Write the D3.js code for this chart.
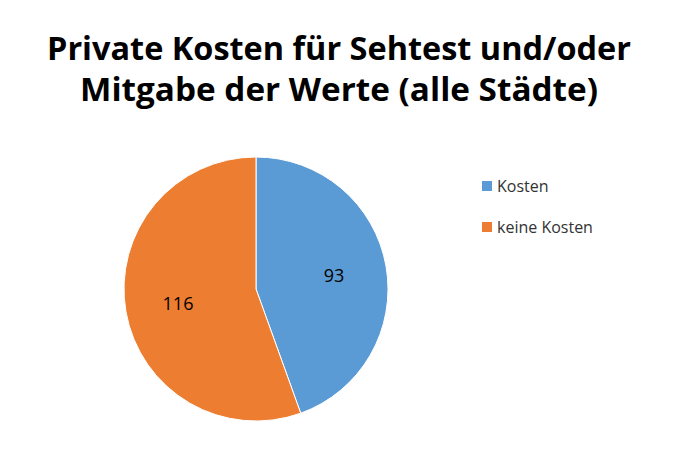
<!DOCTYPE html>
<html><head><meta charset="utf-8">
<script src="https://cdn.jsdelivr.net/npm/d3@7"></script>
<style>body{margin:0;background:#fff}</style></head>
<body><svg id="c" width="691" height="465"></svg>
<script>
const categories = ["Kosten", "keine Kosten"];
const values = [93, 116];
const colors = ["#5B9BD5", "#ED7D31"];
const titleLines = ["Private Kosten für Sehtest und/oder", "Mitgabe der Werte (alle Städte)"];

const svg = d3.select("#c");
svg.append("rect").attr("width",691).attr("height",465).attr("fill","#fff");
const font = "Open Sans, Liberation Sans, sans-serif";
const tl = [[339,60,584],[339,101,518]];
titleLines.forEach((t,i)=>svg.append("text").attr("x",tl[i][0]).attr("y",tl[i][1])
  .attr("text-anchor","middle").attr("font-family",font).attr("font-weight","bold")
  .attr("font-size",32).attr("fill","#000").attr("textLength",tl[i][2])
  .attr("lengthAdjust","spacingAndGlyphs").text(t));

const cx=256, cy=289, r=132;
const pie = d3.pie().sort(null)(values);
const arc = d3.arc().innerRadius(0).outerRadius(r);
const g = svg.append("g").attr("transform",`translate(${cx},${cy})`);
g.selectAll("path").data(pie).enter().append("path").attr("d",arc)
  .attr("fill",(d,i)=>colors[i]).attr("stroke","#fff").attr("stroke-width",1);
const la = d3.arc().innerRadius(r*0.6).outerRadius(r*0.6);
g.selectAll("text").data(pie).enter().append("text")
  .attr("transform",d=>`translate(${la.centroid(d)})`).attr("text-anchor","middle")
  .attr("dominant-baseline","central").attr("font-family",font).attr("font-size",18)
  .attr("fill","#000").text(d=>d.data);

const lg = svg.append("g");
categories.forEach((c,i)=>{
  const y=186+i*41;
  lg.append("rect").attr("x",482).attr("y",y-5).attr("width",10).attr("height",10).attr("fill",colors[i]);
  lg.append("text").attr("x",497).attr("y",y).attr("dominant-baseline","central")
    .attr("font-family",font).attr("font-size",16).attr("fill","#333").text(c);
});
</script></body></html>
